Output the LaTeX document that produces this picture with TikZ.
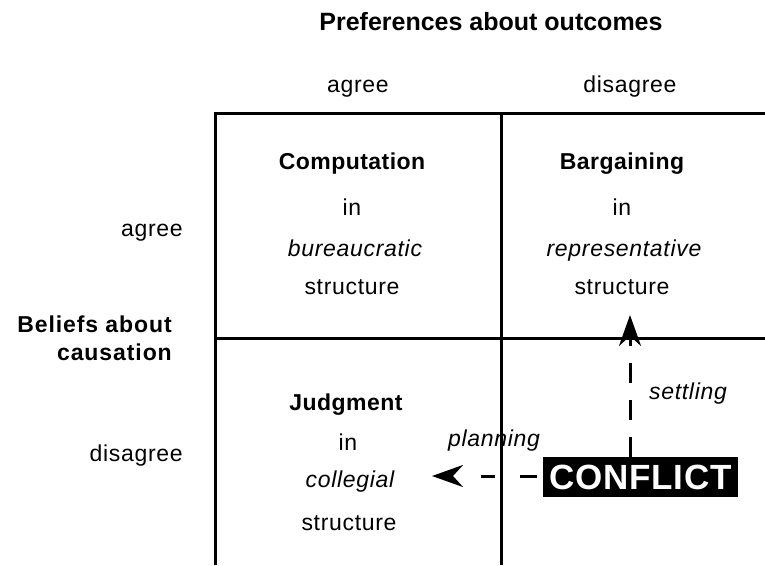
\documentclass[tikz,border=0pt]{standalone}
\usepackage{fontspec}
\setmainfont{Liberation Sans}[LetterSpace=3]
\newfontfamily\boldfam{Liberation Sans}[LetterSpace=2]
\newfontfamily\widebold{Liberation Sans}[LetterSpace=4]
\newfontfamily\plainfam{Liberation Sans}
\usetikzlibrary{arrows.meta}
\tikzset{
  txt/.style={inner sep=0pt, anchor=base, font=\fontsize{23}{27}\selectfont},
  btxt/.style={inner sep=0pt, anchor=base, font=\boldfam\fontsize{23}{27}\selectfont\bfseries},
  itxt/.style={inner sep=0pt, anchor=base, font=\fontsize{23}{27}\selectfont\itshape},
  grid/.style={line width=3pt},
  tip/.style={-{Stealth[length=31pt,width=22pt,inset=10pt]}},
}
\begin{document}
\begin{tikzpicture}[x=1pt,y=-1pt]
\useasboundingbox (0,0) rectangle (765,565);
% grid
\draw[grid] (215,565) -- (215,113) -- (765,113);
\draw[grid] (501,113) -- (501,565);
\draw[grid] (215,338) -- (765,338);
% headers
\node[inner sep=0pt, anchor=base, font=\plainfam\fontsize{25}{28}\selectfont\bfseries] (title) at (491,30) {Preferences about outcomes};
\node[txt] (colA) at (358,92) {agree};
\node[txt] (colD) at (630,92) {disagree};
\node[txt, anchor=base east] (rowA) at (183,236) {agree};
\node[btxt, anchor=base east, font=\widebold\fontsize{23}{27}\selectfont\bfseries] (bel1) at (172,332) {Beliefs about};
\node[btxt, anchor=base east, font=\widebold\fontsize{23}{27}\selectfont\bfseries] (bel2) at (172,360) {causation};
\node[txt, anchor=base east] (rowD) at (183,461) {disagree};
% cells
\node[btxt] (comp) at (352,169) {Computation};
\node[txt] (in1) at (352,215) {in};
\node[itxt] (bur) at (355,256) {bureaucratic};
\node[txt] (s1) at (352,294) {structure};
\node[btxt] (barg) at (622,169) {Bargaining};
\node[txt] (in2) at (622,215) {in};
\node[itxt] (rep) at (624,256) {representative};
\node[txt] (s2) at (622,294) {structure};
\node[btxt] (judg) at (346,410) {Judgment};
\node[txt] (in3) at (348,450) {in};
\node[itxt] (col) at (350,487) {collegial};
\node[txt] (s3) at (349,530) {structure};
% conflict
\node[fill=black, text=white, inner sep=0pt, minimum width=195pt, minimum height=40pt,
      font=\boldfam\fontsize{35}{36}\selectfont\bfseries] (conf) at (640.5,477) {CONFLICT};
\coordinate (settop) at (630,315);
\coordinate (planend) at (432,476);
\draw[grid, tip, dash pattern=on 20pt off 17pt] (conf.north -| settop) -- (settop);
\draw[grid, tip, dash pattern=on 0pt off 6pt on 17pt off 25pt on 14pt off 60pt] (conf.west |- planend) -- (planend);
\node[itxt] (settle) at (688,399) {settling};
\node[itxt] (plan) at (494,446) {planning};
\end{tikzpicture}
\end{document}
